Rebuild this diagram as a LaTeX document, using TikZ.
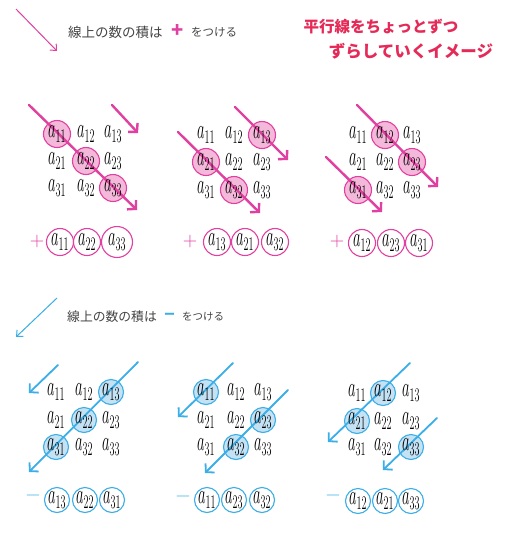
\documentclass[tikz,border=0pt]{standalone}
\usepackage{fontspec}
\usepackage{graphicx}
\newfontfamily\jp{Noto Sans CJK JP}
\usetikzlibrary{arrows.meta}
\definecolor{pk}{HTML}{E040A0}
\definecolor{pkfill}{HTML}{F4B8DA}
\definecolor{bl}{HTML}{3AAEE6}
\definecolor{blfill}{HTML}{C4E2F4}
\definecolor{rd}{HTML}{E62A58}
\definecolor{txt}{HTML}{444444}
\newcommand\ent[1]{\scalebox{0.85}[1.6]{$a_{#1}$}}
\begin{document}
\begin{tikzpicture}[x=1pt,y=-1pt,
  every node/.style={inner sep=0pt},
  entry/.style={font=\fontsize{17}{17}\selectfont},
  pkhi/.style={circle, draw=pk, fill=pkfill, line width=1.1pt, minimum size=27pt},
  pkring/.style={circle, draw=pk, fill=white, line width=1.1pt, minimum size=27pt, font=\fontsize{17}{17}\selectfont},
  blhi/.style={circle, draw=bl, fill=blfill, line width=1.1pt, minimum size=25pt},
  blring/.style={circle, draw=bl, fill=white, line width=1.1pt, minimum size=25pt, font=\fontsize{17}{17}\selectfont},
  pkarrow/.style={draw=pk, line width=2.4pt, line cap=round, -{Straight Barb[length=6pt,width=13pt]}},
  blarrow/.style={draw=bl, line width=1.8pt, line cap=round, -{Straight Barb[length=6pt,width=13pt]}},
  legend/.style={font=\jp\fontsize{13.5}{14}\selectfont, text=txt},
  title/.style={font=\jp\bfseries\fontsize{15.5}{16}\selectfont, text=rd},
  sign/.style={font=\fontsize{20}{20}\selectfont}
]
\fill[white] (0,0) rectangle (507,539);
\useasboundingbox (0,0) rectangle (507,539);

% ---------- coordinates of matrix entries ----------
\foreach \m/\xa/\xb/\xc/\ya/\yb/\yc in {
  t1/57/86/113/134/161/188,
  t2/206/234/262/135/162/190,
  t3/358/385/412/135/162/190,
  b1/56/84/111/392/420/447,
  b2/206/236/263/392/420/447,
  b3/357/383/411/393/421/447}{
  \foreach \r/\y in {1/\ya,2/\yb,3/\yc}{
    \foreach \c/\x in {1/\xa,2/\xb,3/\xc}{
      \coordinate (\m-\r\c) at (\x,\y);
    }
  }
}

% ---------- legends ----------
\coordinate (lp1) at (16,9);
\coordinate (lp2) at (57,51);
\draw[draw=pk, line width=1pt, -{Straight Barb[length=5pt,width=9pt]}] (lp1) -- (lp2);
\node[legend, anchor=west] (lgp1) at (68,32) {線上の数の積は};
\node[font=\jp\bfseries\fontsize{20}{20}\selectfont, text=pk] (lgp2) at (178,31) {+};
\node[legend, anchor=west, font=\jp\fontsize{11.5}{12}\selectfont] (lgp3) at (191,32) {をつける};

\node[title] (ti1) at (381,27) {平行線をちょっとずつ};
\node[title, font=\jp\bfseries\fontsize{16.5}{17}\selectfont] (ti2) at (411,51) {ずらしていくイメージ};

\coordinate (lb1) at (57,298);
\coordinate (lb2) at (16,337);
\draw[draw=bl, line width=1pt, -{Straight Barb[length=5pt,width=9pt]}] (lb1) -- (lb2);
\node[legend, anchor=west, font=\jp\fontsize{12.8}{13}\selectfont] (lgb1) at (67,317) {線上の数の積は};
\node[font=\jp\bfseries\fontsize{11}{11}\selectfont, text=bl] (lgb2) at (169.5,316) {ー};
\node[legend, anchor=west, font=\jp\fontsize{10.5}{11}\selectfont] (lgb3) at (182,317) {をつける};

% ---------- highlight circles ----------
\node[pkhi] (t1-h11) at (t1-11) {};
\node[pkhi] (t1-h22) at (t1-22) {};
\node[pkhi] (t1-h33) at (t1-33) {};
\node[pkhi] (t2-h13) at (t2-13) {};
\node[pkhi] (t2-h21) at (t2-21) {};
\node[pkhi] (t2-h32) at (t2-32) {};
\node[pkhi] (t3-h12) at (t3-12) {};
\node[pkhi] (t3-h23) at (t3-23) {};
\node[pkhi] (t3-h31) at (t3-31) {};
\node[blhi] (b1-h13) at (b1-13) {};
\node[blhi] (b1-h22) at (b1-22) {};
\node[blhi] (b1-h31) at (b1-31) {};
\node[blhi] (b2-h11) at (b2-11) {};
\node[blhi] (b2-h23) at (b2-23) {};
\node[blhi] (b2-h32) at (b2-32) {};
\node[blhi] (b3-h12) at (b3-12) {};
\node[blhi] (b3-h21) at (b3-21) {};
\node[blhi] (b3-h33) at (b3-33) {};

% ---------- arrows ----------
\coordinate (t1a0) at (29,105);  \coordinate (t1a1) at (137,210);
\coordinate (t1b0) at (112,105); \coordinate (t1b1) at (138,133);
\coordinate (t2a0) at (235,107); \coordinate (t2a1) at (288,160);
\coordinate (t2b0) at (178,132); \coordinate (t2b1) at (260,213);
\coordinate (t3a0) at (357,105); \coordinate (t3a1) at (438,187);
\coordinate (t3b0) at (326,157); \coordinate (t3b1) at (382,212);
\draw[pkarrow] (t1a0) -- (t1a1);
\draw[pkarrow] (t1b0) -- (t1b1);
\draw[pkarrow] (t2a0) -- (t2a1);
\draw[pkarrow] (t2b0) -- (t2b1);
\draw[pkarrow] (t3a0) -- (t3a1);
\draw[pkarrow] (t3b0) -- (t3b1);

\coordinate (b1a0) at (58,365);  \coordinate (b1a1) at (29,393);
\coordinate (b1b0) at (138,362); \coordinate (b1b1) at (29,472);
\coordinate (b2a0) at (233,363); \coordinate (b2a1) at (178,417);
\coordinate (b2b0) at (288,390); \coordinate (b2b1) at (205,473);
\coordinate (b3a0) at (410,363); \coordinate (b3a1) at (328,442);
\coordinate (b3b0) at (437,418); \coordinate (b3b1) at (383,470);
\draw[blarrow] (b1a0) -- (b1a1);
\draw[blarrow] (b1b0) -- (b1b1);
\draw[blarrow] (b2a0) -- (b2a1);
\draw[blarrow] (b2b0) -- (b2b1);
\draw[blarrow] (b3a0) -- (b3a1);
\draw[blarrow] (b3b0) -- (b3b1);

% ---------- entries ----------
\foreach \m in {t1,t2,t3,b1,b2,b3}{
  \foreach \r in {1,2,3}{
    \foreach \c in {1,2,3}{
      \node[entry] (\m-n\r\c) at (\m-\r\c) {\ent{\r\c}};
    }
  }
}

% ---------- product rows ----------
\node[sign, text=pk] (t1-s) at (37,242) {+};
\node[pkring] (t1-p1) at (60,242) {\ent{11}};
\node[pkring] (t1-p2) at (87,242) {\ent{22}};
\node[pkring, minimum size=31pt] (t1-p3) at (117,242) {\ent{33}};

\node[sign, text=pk] (t2-s) at (190,242) {+};
\node[pkring] (t2-p1) at (217,242) {\ent{13}};
\node[pkring] (t2-p2) at (245,242) {\ent{21}};
\node[pkring] (t2-p3) at (275,242) {\ent{32}};

\node[sign, text=pk] (t3-s) at (337,242) {+};
\node[pkring] (t3-p1) at (362,243) {\ent{12}};
\node[pkring] (t3-p2) at (391,243) {\ent{23}};
\node[pkring] (t3-p3) at (419,243) {\ent{31}};

\node[sign, text=bl] (b1-s) at (33,498) {−};
\node[blring] (b1-p1) at (57,500) {\ent{13}};
\node[blring] (b1-p2) at (85,500) {\ent{22}};
\node[blring] (b1-p3) at (112,500) {\ent{31}};

\node[sign, text=bl] (b2-s) at (183,499) {−};
\node[blring] (b2-p1) at (207,500) {\ent{11}};
\node[blring] (b2-p2) at (234,500) {\ent{23}};
\node[blring] (b2-p3) at (262,500) {\ent{32}};

\node[sign, text=bl] (b3-s) at (333,498) {−};
\node[blring] (b3-p1) at (358,501) {\ent{12}};
\node[blring] (b3-p2) at (385,501) {\ent{21}};
\node[blring] (b3-p3) at (411,501) {\ent{33}};
\end{tikzpicture}
\end{document}
